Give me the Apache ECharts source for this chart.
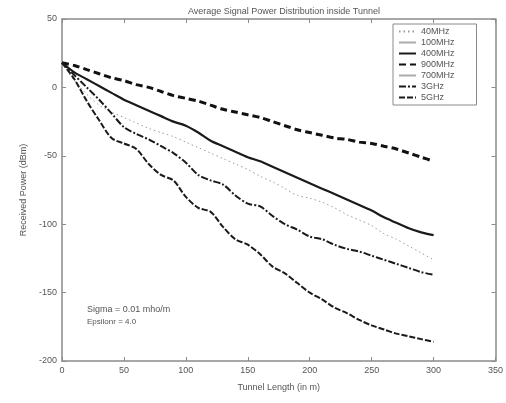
<!DOCTYPE html>
<html><head><meta charset="utf-8">
<script src="https://cdn.jsdelivr.net/npm/echarts@6/dist/echarts.min.js"></script>
<style>html,body{margin:0;padding:0;background:#fff}#c{width:506px;height:403px}</style>
</head><body><div id="c"></div>
<script>
const distance = [0,10,20,30,40,50,60,70,80,90,100,110,120,130,140,150,160,170,180,190,200,210,220,230,240,250,260,270,280,290,300];
const p40MHz  = [18,5,-5,-13,-18,-22,-26,-30,-33,-36,-40,-44,-48,-52,-56,-60,-65,-69,-74,-79,-81,-84,-88,-93,-97,-101,-107,-111,-116,-121,-126];
const p100MHz = [];
const p400MHz = [18,11,6,1,-4,-9,-13,-17,-21,-25,-28,-33,-39,-43,-47,-51,-54,-58,-62,-66,-70,-74,-78,-82,-86,-90,-95,-99,-103,-106,-108];
const p900MHz = [18,16,13,10,7,5,2,0,-3,-6,-8,-10,-13,-16,-18,-20,-22,-25,-28,-31,-33,-35,-37,-38,-40,-41,-43,-45,-48,-51,-54];
const p700MHz = [];
const p3GHz   = [18,9,0,-9,-19,-29,-34,-38,-43,-48,-55,-64,-68,-71,-79,-85,-87,-94,-100,-104,-109,-111,-115,-118,-120,-123,-126,-129,-132,-135,-137];
const p5GHz   = [18,6,-10,-24,-37,-41,-45,-56,-64,-68,-80,-88,-91,-102,-111,-115,-122,-131,-136,-143,-150,-155,-161,-165,-170,-174,-177,-180,-182,-184,-186];
const xTicks = [0,50,100,150,200,250,300,350];
const yTicks = [-200,-150,-100,-50,0,50];

const pairs = arr => arr.map((v,i)=>[distance[i],v]);
const axisCol = '#8a8a8a', txt = '#555', ff = 'Liberation Sans, Arial, sans-serif';
const chart = echarts.init(document.getElementById('c'));
const mk = (name, data, color, width, type) => ({
  name, type:'line', data: pairs(data), symbol:'none', smooth:0.3,
  lineStyle:{color, width, type}, itemStyle:{color}
});
const axLine = {show:true, onZero:false, lineStyle:{color:axisCol, width:1.5}};
const axTick = {show:true, inside:true, length:4, lineStyle:{color:axisCol}};
chart.setOption({
  animation:false,
  title:{text:'Average Signal Power Distribution inside Tunnel', left:279, top:2, textAlign:'center',
    textStyle:{fontSize:9, fontWeight:'normal', color:txt, fontFamily:ff}},
  grid:{left:62, right:9, top:19, bottom:42},
  legend:{orient:'vertical', left:393, top:24, itemWidth:17, itemHeight:8, itemGap:2,
    padding:[3,22,3,5], borderColor:axisCol, borderWidth:1, backgroundColor:'#fff',
    itemStyle:{opacity:0},
    textStyle:{fontSize:9, color:txt, fontFamily:ff}},
  xAxis:[{type:'value', min:0, max:350, interval:50, position:'bottom',
    name:'Tunnel Length (in m)', nameLocation:'middle', nameGap:22,
    nameTextStyle:{fontSize:9, color:txt, fontFamily:ff},
    axisLine:axLine, axisTick:axTick,
    axisLabel:{fontSize:9, color:txt, fontFamily:ff, margin:5}, splitLine:{show:false}},
    {type:'value', min:0, max:350, interval:50, position:'top',
    axisLine:axLine, axisTick:axTick,
    axisLabel:{show:false}, splitLine:{show:false}}],
  yAxis:[{type:'value', min:-200, max:50, interval:50, position:'left',
    name:'Received Power (dBm)', nameLocation:'middle', nameGap:32,
    nameTextStyle:{fontSize:9, color:txt, fontFamily:ff},
    axisLine:axLine, axisTick:axTick,
    axisLabel:{fontSize:9, color:txt, fontFamily:ff, margin:5}, splitLine:{show:false}},
    {type:'value', min:-200, max:50, interval:50, position:'right',
    axisLine:axLine, axisTick:axTick,
    axisLabel:{show:false}, splitLine:{show:false}}],
  graphic:[
    {type:'text', left:87, top:305, style:{text:'Sigma = 0.01 mho/m', fontSize:9, fill:txt, fontFamily:ff}},
    {type:'text', left:87, top:318, style:{text:'Epsilonr = 4.0', fontSize:8, fill:txt, fontFamily:ff}}
  ],
  series:[
    mk('40MHz', p40MHz, '#9a9a9a', 1, [1.5,3]),
    mk('100MHz', p100MHz, '#aaaaaa', 1, 'solid'),
    mk('400MHz', p400MHz, '#1a1a1a', 2.2, 'solid'),
    mk('900MHz', p900MHz, '#111111', 3, [7,4]),
    mk('700MHz', p700MHz, '#aaaaaa', 1, 'solid'),
    mk('3GHz', p3GHz, '#1a1a1a', 2, [7,2,2,2]),
    mk('5GHz', p5GHz, '#1a1a1a', 2, [6,2])
  ]
});
</script></body></html>
